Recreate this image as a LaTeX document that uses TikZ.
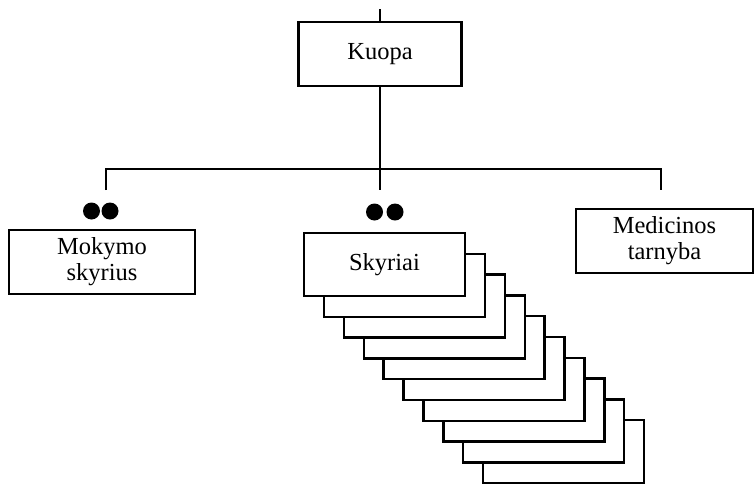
\documentclass[tikz,border=0pt]{standalone}
\usepackage{fontspec}
\setmainfont{Liberation Serif}
\begin{document}
\begin{tikzpicture}[x=1pt,y=-1pt,
  box/.style={draw, line width=2.4pt, fill=white, rectangle, inner sep=0pt, align=center,
    font=\fontsize{24.5}{26}\selectfont},
  conn/.style={line width=1.6pt},
  dot/.style={circle, fill=black, inner sep=0pt, minimum size=17pt}]
\useasboundingbox (0,0) rectangle (754,483);
% top node
\coordinate (top) at (380,9);
\node[box, minimum width=163pt, minimum height=64pt] (kuopa) at (380,54) {Kuopa};
\draw[conn] (top) -- (kuopa.north);
% bar
\coordinate (barL) at (106,169);
\coordinate (barR) at (661,169);
\coordinate (dL) at (106,190);
\coordinate (dM) at (380,190);
\coordinate (dR) at (661,190);
\draw[conn] (kuopa.south) -- (dM);
\draw[conn] (dL) -- (barL) -- (barR) -- (dR);
% dots
\node[dot] (dl1) at (91.5,211) {};
\node[dot] (dl2) at (110,211) {};
\node[dot] (dm1) at (374.5,212) {};
\node[dot] (dm2) at (395,212) {};
% left and right boxes
\node[box, minimum width=186pt, minimum height=64pt] (mokymo) at (102,262) {Mokymo\\skyrius};
\node[box, minimum width=177pt, minimum height=64pt] (medicinos) at (664.5,241) {Medicinos\\tarnyba};
% stack
\foreach \i in {9,8,...,1}{
  \node[box, minimum width=161pt, minimum height=63pt] (s\i) at ({384.5+19.9*\i},{264.5+20.8*\i}) {};
}
\node[box, minimum width=161pt, minimum height=63pt] (skyriai) at (384.5,264.5) {Skyriai};
\end{tikzpicture}
\end{document}
